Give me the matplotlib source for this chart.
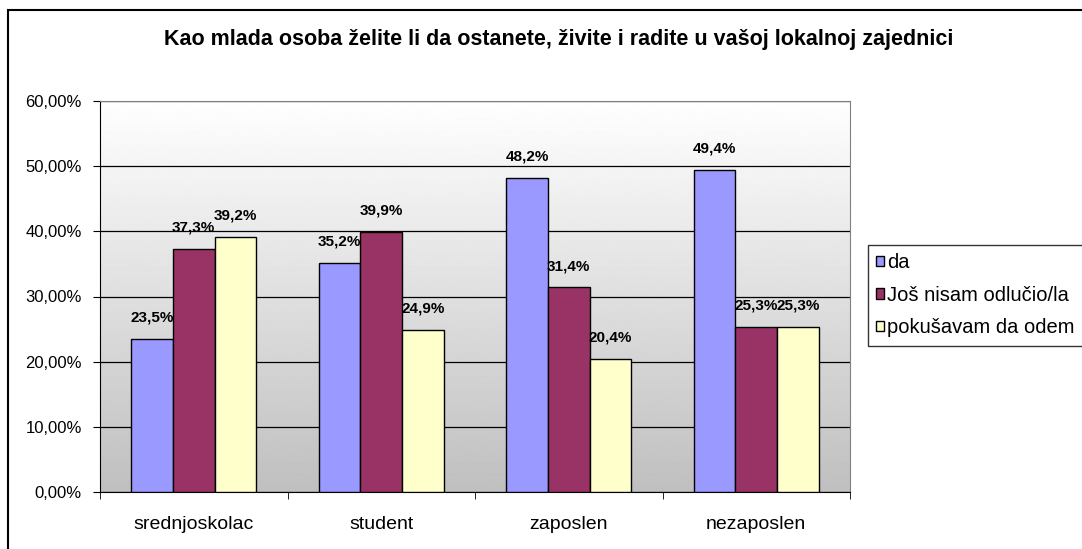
import numpy as np
import matplotlib.pyplot as plt
from matplotlib.patches import Rectangle
from matplotlib.ticker import FuncFormatter, FixedLocator

plt.rcParams['font.family'] = ['Liberation Sans', 'DejaVu Sans']

# podaci
categories = ['srednjoskolac', 'student', 'zaposlen', 'nezaposlen']
series_names = ['da', 'Još nisam odlučio/la', 'pokušavam da odem']
da = [23.5, 35.2, 48.2, 49.4]
neodlucni = [37.3, 39.9, 31.4, 25.3]
odlazak = [39.2, 24.9, 20.4, 25.3]
colors = ['#9999FF', '#993366', '#FFFFCC']

W, H = 1082, 549
fig = plt.figure(figsize=(W / 100, H / 100), dpi=100)
# okvir grafikona
fig.patches.append(Rectangle((8 / W, -0.1), 1.2, 1 - 10 / H + 0.1, transform=fig.transFigure,
                             fill=False, edgecolor='black', linewidth=1.5))

ax = fig.add_axes([100 / W, 1 - 492 / H, 750 / W, (492 - 101) / H])

# gradijent pozadine
grad = np.linspace(1.0, 0.75, 256).reshape(-1, 1)
ax.imshow(grad, cmap='gray', vmin=0, vmax=1, extent=(-0.5, 3.5, 0, 60), aspect='auto', zorder=0)

x = np.arange(len(categories))
bw = 0.222
for i, (vals, name) in enumerate(zip([da, neodlucni, odlazak], series_names)):
    pos = x + (i - 1) * bw
    ax.bar(pos, vals, bw, color=colors[i], edgecolor='black', linewidth=1, label=name, zorder=3)
    for p, v in zip(pos, vals):
        ax.text(p, v + 2.2, f'{v:.1f}%'.replace('.', ','), ha='center', va='bottom',
                fontsize=11, fontweight='bold', zorder=4)

ax.set_xlim(-0.5, 3.5)
ax.set_ylim(0, 60)
ax.set_yticks(np.arange(0, 61, 10))
ax.yaxis.set_major_formatter(FuncFormatter(lambda v, p: f'{v:.2f}%'.replace('.', ',')))
ax.yaxis.grid(True, color='black', linewidth=0.9, zorder=1)
ax.set_axisbelow(True)

ax.set_xticks(x)
ax.set_xticklabels(categories, fontsize=14)
ax.tick_params(axis='x', length=0, pad=17)
ax.xaxis.set_minor_locator(FixedLocator(np.arange(-0.5, 3.6, 1)))
ax.tick_params(axis='x', which='minor', length=5, direction='out', color='black')
ax.tick_params(axis='y', length=5, direction='out', labelsize=12, pad=8)

ax.spines['top'].set_color('#808080')
ax.spines['right'].set_color('#808080')
ax.spines['left'].set_color('black')
ax.spines['bottom'].set_color('black')

fig.text(559 / W, 1 - 40 / H, 'Kao mlada osoba želite li da ostanete, živite i radite u vašoj lokalnoj zajednici',
         ha='center', va='center', fontsize=15.5, fontweight='bold')

leg = fig.legend(loc='upper left', bbox_to_anchor=(868 / W, 1 - 245 / H), fontsize=14.5,
                 frameon=True, fancybox=False, edgecolor='black', handlelength=0.4,
                 handleheight=0.4, handletextpad=0.15, labelspacing=0.68, borderpad=0.4,
                 borderaxespad=0)
leg.get_frame().set_linewidth(1)
leg.get_frame().set_facecolor('white')

fig.savefig('out.png', dpi=100)
